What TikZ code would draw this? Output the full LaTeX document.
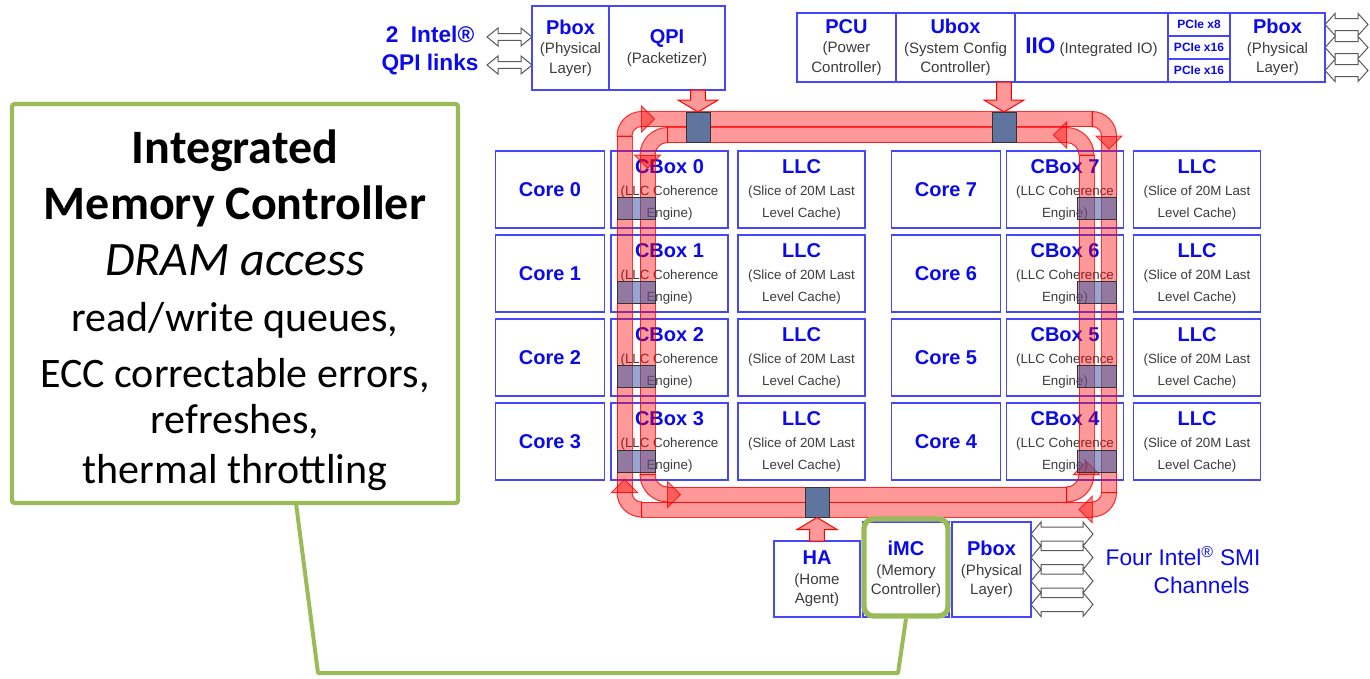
\documentclass[tikz,border=0pt]{standalone}
\usepackage{fontspec}
\setmainfont{Liberation Sans}
\newfontfamily\calloutfont{Carlito}
\usetikzlibrary{positioning, calc}

\definecolor{unitblue}{RGB}{70,70,250}
\definecolor{labelblue}{RGB}{10,10,235}
\definecolor{subgray}{RGB}{60,60,60}
\definecolor{calloutgreen}{RGB}{155,187,89}
\definecolor{stopslate}{RGB}{95,117,160}
\definecolor{stopblue}{RGB}{60,95,170}

\newcommand{\utitle}[1]{{\fontsize{15pt}{17pt}\selectfont\bfseries\color{labelblue}#1}}
\newcommand{\usub}[1]{{\color{subgray}#1}}
\newcommand{\bigline}[1]{{\fontsize{36pt}{42pt}\selectfont#1}}

% fat red arrow from a box into a ring stop
\newcommand{\fatarrow}[2]{%
  \draw[fatarrow] let \p1=#1, \p2=#2, \p3=($#2!9pt!#1$) in
    (\x1-5.6pt,\y1) -- (\x1-5.6pt,\y3) -- (\x1-15pt,\y3) -- (\x2,\y2)
    -- (\x1+15pt,\y3) -- (\x1+5.6pt,\y3) -- (\x1+5.6pt,\y1) -- cycle;}
% hollow double-headed link arrow, left to right
\newcommand{\linkarrow}[5]{%
  \draw[linkarrow] let \p1=#1, \p2=#2 in
    (\x1,\y1) -- (\x1+#5,\y1+#4) -- (\x1+#5,\y1+#3) -- (\x2-#5,\y1+#3) -- (\x2-#5,\y1+#4)
    -- (\x2,\y1) -- (\x2-#5,\y1-#4) -- (\x2-#5,\y1-#3) -- (\x1+#5,\y1-#3) -- (\x1+#5,\y1-#4) -- cycle;}

\tikzset{
  unit/.style={draw=unitblue, line width=0.9pt, fill=white, align=center, inner sep=0pt, outer sep=0pt},
  gridsub/.style={font=\fontsize{10pt}{16.5pt}\selectfont},
  edgesub/.style={font=\fontsize{11.3pt}{14.5pt}\selectfont},
  corebox/.style={unit, gridsub, minimum width=82pt, minimum height=57.75pt},
  cboxbox/.style={unit, gridsub, minimum width=87.75pt, minimum height=57.75pt},
  llcbox/.style={unit, gridsub, minimum width=95.25pt, minimum height=57.75pt},
  pciebox/.style={unit, minimum width=46.5pt, minimum height=17.25pt, font=\fontsize{9pt}{10pt}\selectfont\bfseries, text=labelblue},
  ringband/.style={draw=red, line width=0.75pt, fill=red, fill opacity=0.4, draw opacity=0.8},
  topstop/.style={draw=black!80, line width=0.75pt, fill=stopslate, minimum width=18pt, minimum height=22.5pt, inner sep=0pt},
  sidestop/.style={draw=black!80, line width=0.75pt, fill=stopblue, fill opacity=0.55, minimum height=16.5pt, inner sep=0pt},
  fatarrow/.style={draw=red, line width=0.75pt, fill=red!40, line join=miter},
  linkarrow/.style={draw=black!65, line width=0.75pt, fill=white, line join=miter},
  bluetext/.style={font=\fontsize{17pt}{21pt}\selectfont, text=labelblue},
  calloutbox/.style={draw=calloutgreen, line width=3.2pt, fill=white, rounded corners=2pt},
  imcring/.style={draw=calloutgreen, line width=4pt, rounded corners=7pt},
  tailline/.style={draw=calloutgreen, line width=3pt, line join=round},
  pics/turn/.style={code={
    \draw[ringband] (-#1-7.5,0) arc[start angle=180, end angle=270, radius=#1+7.5]
      -- (0,-#1-13) -- (13,-#1) -- (0,-#1+13) -- (0,-#1+7.5)
      arc[start angle=270, end angle=180, radius=#1-7.5] -- cycle;
  }},
}

\begin{document}
\begin{tikzpicture}[x=0.75pt, y=-0.75pt]
\useasboundingbox (0,0) rectangle (1370,678);

% QPI side
\node[unit, edgesub, minimum width=57.75pt, minimum height=63pt] (pboxq) at (570.5,48) {\utitle{Pbox}\\\usub{(Physical}\\\usub{Layer)}};
\node[unit, edgesub, minimum width=87pt, minimum height=63pt] (qpi) at (667,48) {\utitle{QPI}\\\usub{(Packetizer)}};
\node[bluetext, font=\fontsize{17pt}{21pt}\selectfont\bfseries, align=center] (qpilinks) at (430,51) {2\ \ Intel®\\QPI links};
\coordinate (qpiend1) at (487,37);
\coordinate (qpiend2) at (487,65);
\linkarrow{(qpiend1)}{(pboxq.west |- qpiend1)}{2.6pt}{6.75pt}{8.25pt}
\linkarrow{(qpiend2)}{(pboxq.west |- qpiend2)}{2.6pt}{6.75pt}{8.25pt}

% uncore, top right
\node[unit, edgesub, minimum width=74.25pt, minimum height=51.75pt] (pcu) at (846.5,47.5) {\utitle{PCU}\\\usub{(Power}\\\usub{Controller)}};
\node[unit, edgesub, minimum width=89.25pt, minimum height=51.75pt] (ubox) at (955.5,47.5) {\utitle{Ubox}\\\usub{(System Config}\\\usub{Controller)}};
\node[unit, edgesub, minimum width=114.75pt, minimum height=51.75pt] (iio) at (1091.5,47.5) {{\fontsize{17pt}{20pt}\selectfont\bfseries\color{labelblue}IIO} \usub{(Integrated IO)}};
\node[pciebox] (pcie1) at (1199,24.5) {PCIe x8};
\node[pciebox, below=0pt of pcie1] (pcie2) {PCIe x16};
\node[pciebox, below=0pt of pcie2] (pcie3) {PCIe x16};
\node[unit, edgesub, minimum width=71.25pt, minimum height=51.75pt] (pboxr) at (1277.5,47.5) {\utitle{Pbox}\\\usub{(Physical}\\\usub{Layer)}};
\foreach \i/\yy in {1/24.5,2/47.5,3/70.5}{
  \coordinate (pciel\i) at (1368,\yy);
  \linkarrow{(pboxr.east |- pciel\i)}{(pciel\i)}{4.5pt}{8.25pt}{7.5pt}
}

% cores, cboxes and LLC slices
\foreach \lc/\rc [count=\r from 0] in {0/7,1/6,2/5,3/4}{
  \pgfmathsetmacro{\ry}{189.5+84*\r}
  \node[corebox] (core\lc) at (550,\ry) {\utitle{Core \lc}};
  \node[cboxbox] (cbox\lc) at (669.5,\ry) {\utitle{CBox \lc}\\\usub{(LLC Coherence}\\\usub{Engine)}};
  \node[llcbox] (llc\lc) at (801.5,\ry) {\utitle{LLC}\\\usub{(Slice of 20M Last}\\\usub{Level Cache)}};
  \node[corebox] (core\rc) at (946,\ry) {\utitle{Core \rc}};
  \node[cboxbox] (cbox\rc) at (1065,\ry) {\utitle{CBox \rc}\\\usub{(LLC Coherence}\\\usub{Engine)}};
  \node[llcbox] (llc\rc) at (1197,\ry) {\utitle{LLC}\\\usub{(Slice of 20M Last}\\\usub{Level Cache)}};
}

% bottom
\node[unit, edgesub, minimum width=64.5pt, minimum height=57pt] (ha) at (817,579) {\utitle{HA}\\\usub{(Home}\\\usub{Agent)}};
\node[unit, edgesub, minimum width=64.5pt, minimum height=71.25pt] (imc) at (906,569.5) {\utitle{iMC}\\\usub{(Memory}\\\usub{Controller)}};
\node[unit, edgesub, minimum width=59.25pt, minimum height=71.25pt] (pboxm) at (991.5,569.5) {\utitle{Pbox}\\\usub{(Physical}\\\usub{Layer)}};
\foreach \i/\yy in {1/534,2/557.5,3/581,4/604.5}{
  \coordinate (smi\i) at (1093,\yy);
  \linkarrow{(pboxm.east |- smi\i)}{(smi\i)}{5.25pt}{9pt}{7.5pt}
}
\node[bluetext, align=left, anchor=west] (smilabel) at (1101,570) {Four Intel\textsuperscript{®} SMI\\\hspace*{36pt}Channels};

% ring: outer lane clockwise, inner lane counter-clockwise
\draw[ringband] (641.5,111.5) rectangle (1092,126.5);
\draw[ringband] (1101.5,136) rectangle (1116.5,492.5);
\draw[ringband] (641.5,502) rectangle (1092,517);
\draw[ringband] (617,136) rectangle (632,492.5);
\draw[ringband] (667.5,127.5) rectangle (1066.5,142.5);
\draw[ringband] (640,155) rectangle (655,474.5);
\draw[ringband] (667.5,487) rectangle (1066.5,502);
\draw[ringband] (1079,155) rectangle (1094,474.5);
\pic[shift={(641.5,136)}] {turn=17};
\pic[shift={(1092,136)}, rotate=-90] {turn=17};
\pic[shift={(1092,492.5)}, rotate=180] {turn=17};
\pic[shift={(641.5,492.5)}, rotate=90] {turn=17};
\pic[shift={(1066.5,155)}, xscale=-1] {turn=20};
\pic[shift={(667.5,155)}, rotate=90, xscale=-1] {turn=20};
\pic[shift={(667.5,474.5)}, rotate=180, xscale=-1] {turn=20};
\pic[shift={(1066.5,474.5)}, rotate=-90, xscale=-1] {turn=20};

% ring stops
\node[topstop] (qpistop) at (698,127.5) {};
\node[topstop] (uboxstop) at (1004,127.5) {};
\node[topstop] (hastop) at (817,502) {};
\foreach \i/\yy in {0/208,1/292,2/376,3/461}{
  \node[sidestop, minimum width=28.5pt] (lstop\i) at (636,\yy) {};
  \node[sidestop, minimum width=29.25pt] (rstop\i) at (1096.5,\yy) {};
}
\fatarrow{(qpi.south -| qpistop)}{(qpistop.north)}
\fatarrow{(ubox.south -| uboxstop)}{(uboxstop.north)}
\fatarrow{(ha.north -| hastop)}{(hastop.south)}

% callout
\coordinate (tailbend1) at (318,673);
\coordinate (tailbend2) at (898,673);
\node[imcring, minimum width=63pt, minimum height=72.75pt] (imcring) at (906,567.5) {};
\draw[tailline] (235+58,480) -- (tailbend1) -- (tailbend2) -- (imcring.south);
\node[calloutbox, minimum width=334.5pt, minimum height=299.25pt] (callout) at (235,303.5) {};
\node[font=\calloutfont\fontsize{31.5pt}{42pt}\selectfont, align=center] (callouttext) at (235,310)
  {\bigline{\bfseries Integrated}\\\bigline{\bfseries Memory Controller}\\\bigline{\itshape DRAM access}\\read/write queues,\\ECC correctable errors,\\[-7pt]refreshes,\\[-5pt]thermal throttling};
\end{tikzpicture}
\end{document}
